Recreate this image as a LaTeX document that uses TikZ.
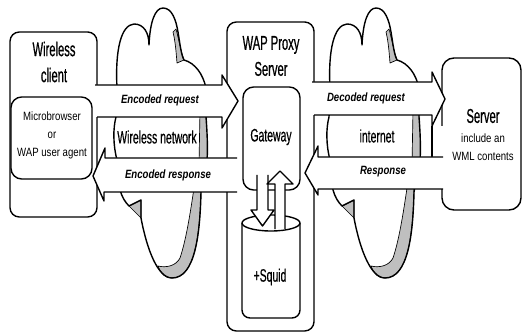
\documentclass[tikz,border=0pt]{standalone}
\usepackage{fontspec}
\setmainfont{Liberation Sans}
\newfontfamily\bigf[FakeStretch=0.56,FakeBold=0.6]{Liberation Sans}
\newfontfamily\midf[FakeStretch=0.58,FakeBold=0.4]{Liberation Sans}
\newfontfamily\smf[FakeStretch=0.8]{Liberation Sans}
\usetikzlibrary{fit}
\begin{document}
\begin{tikzpicture}[x=0.75pt,y=-0.75pt,line width=1.05pt,line join=round,
  box/.style={draw,fill=white,rounded corners=7pt,inner sep=0pt},
  ibox/.style={draw,fill=white,rounded corners=8pt,inner sep=0pt},
  bigtxt/.style={inner sep=0pt,align=center,font=\bigf\fontsize{15}{19.5}\selectfont},
  midtxt/.style={inner sep=0pt,align=center,font=\midf\fontsize{13.5}{15}\selectfont},
  smtxt/.style={inner sep=0pt,align=center,font=\smf\fontsize{9}{13.5}\selectfont},
  lbltxt/.style={inner sep=0pt,font=\smf\bfseries\itshape\fontsize{9}{11}\selectfont},
  hatch/.style={fill=black!25},
  hatchline/.style={line width=0.5pt},
  blk/.style={fill=white,draw=none}]
\useasboundingbox (0,0) rectangle (523,334);

% ---------- boxes ----------
\node (client) [box,fit={(10,32) (97,217)}] {};
\node (agent)  [ibox,fit={(11,97) (92,179)}] {};
\node (proxy)  [box,fit={(227,22) (314,331)}] {};
\node (gateway)[ibox,fit={(243,87) (300,190)}] {};
\node (server) [box,rounded corners=9pt,fit={(442,58) (521,210)}] {};

% squid cylinder
\draw[fill=white,rounded corners=6pt] (242,223) -- (242,318) -- (300,318) -- (300,223);
\draw[fill=white] (271,223) ellipse [x radius=29, y radius=8];
\coordinate (squidtop) at (271,223);

% small arrows gateway <-> squid
\fill[blk] (257,175) -- (257,210) -- (251,210) -- (262.5,226) -- (274,210) -- (268,210) -- (268,175) -- cycle;
\draw (257,175) -- (257,210) -- (251,210) -- (262.5,226) -- (274,210) -- (268,210) -- (268,175);
\fill[blk] (275,229) -- (275,184) -- (267,184) -- (280,171) -- (293,184) -- (285,184) -- (285,229) -- cycle;
\draw (275,229) -- (275,184) -- (267,184) -- (280,171) -- (293,184) -- (285,184) -- (285,229);

% ---------- clouds ----------
\foreach \dx in {0,213}{
\begin{scope}[shift={(\dx,0)}]
  % shading
  \filldraw[hatch,hatchline] (176,29) .. controls (179,40) and (181,52) .. (184,60) -- (177,63) .. controls (176,50) and (175,40) .. (173,32) -- cycle;
  \fill[hatch] (200,110) -- (207,110) -- (207,165) -- (199,165) -- cycle;
  \draw[hatchline] (200,110) -- (199,165);
  \filldraw[hatch,hatchline] (201,188) .. controls (200,235) and (195,278) .. (172,278)
     .. controls (165,278) and (161,274) .. (158,266)
     .. controls (166,268) and (176,266) .. (180,258)
     .. controls (186,240) and (190,215) .. (194,188) -- cycle;
  \filldraw[hatch,hatchline] (129,206) -- (141,200) -- (141,218) -- cycle;
  % outline
  \draw (117,88)
    .. controls (115,50) and (121,25) .. (134,24)
    .. controls (144,24) and (149,33) .. (149,45)
    .. controls (150,22) and (155,8) .. (163,8)
    .. controls (172,8) and (176,20) .. (178,32)
    .. controls (180,44) and (181,54) .. (184,60)
    .. controls (195,63) and (203,74) .. (206,88)
    -- (206,117)
    .. controls (207,130) and (208,148) .. (207,160)
    -- (201,192)
    .. controls (200,235) and (195,278) .. (172,278)
    .. controls (158,278) and (147,250) .. (141,218)
    -- (141,200) -- (129,206)
    .. controls (125,202) and (122,197) .. (120,190)
    -- (117,160)
    .. controls (113,145) and (113,128) .. (116,117)
    -- cycle;
\end{scope}}

% ---------- big arrows ----------
% Encoded request
\fill[blk] (95,85) -- (222,85) -- (222,75) -- (238,101) -- (222,128) -- (222,117) -- (95,117) -- cycle;
\draw (95,85) -- (222,85) -- (222,75) -- (238,101) -- (222,128) -- (222,117) -- (97,117);
% Encoded response
\fill[blk] (237,158) -- (105,158) -- (105,148) -- (93,176) -- (104,201) -- (104,192) -- (237,192) -- cycle;
\draw (237,158) -- (105,158) -- (105,148) -- (93,176) -- (104,201) -- (104,192) -- (237,192);
% Decoded request
\fill[blk] (312,82) -- (432,82) -- (432,72) -- (445,99) -- (432,126) -- (432,115) -- (312,115) -- cycle;
\draw (312,82) -- (432,82) -- (432,72) -- (445,99) -- (432,126) -- (432,115) -- (314,115);
\fill[blk] (433,126) rectangle (443,157);
\draw (432,126) -- (432,157);
% Response
\fill[blk] (443,157) -- (318,157) -- (318,146) -- (305,173) -- (318,195) -- (318,189) -- (443,189) -- cycle;
\draw (443,157) -- (318,157) -- (318,146) -- (305,173) -- (318,195) -- (318,189) -- (443,189);

% ---------- texts ----------
\node (clientT) [bigtxt] at (54,62) {Wireless\\client};
\node (agentT)  [smtxt]  at (52,135) {Microbrowser\\or\\WAP user agent};
\node (proxyT)  [bigtxt] at (271,56) {WAP Proxy\\Server};
\node (gwT)     [midtxt] at (271,137) {Gateway};
\node (squidT)  [midtxt] at (270,277) {+Squid};
\node (wnT)     [midtxt] at (157,137) {Wireless network};
\node (inT)     [midtxt] at (377,136) {internet};
\node (serverT) [bigtxt] at (483,116) {Server};
\node (serverS) [smtxt]  at (483,147) {include an\\WML contents};
\node (l1) [lbltxt] at (160,100) {Encoded request};
\node (l2) [lbltxt] at (168,175) {Encoded response};
\node (l3) [lbltxt] at (366,98) {Decoded request};
\node (l4) [lbltxt] at (383,172) {Response};
\end{tikzpicture}
\end{document}
